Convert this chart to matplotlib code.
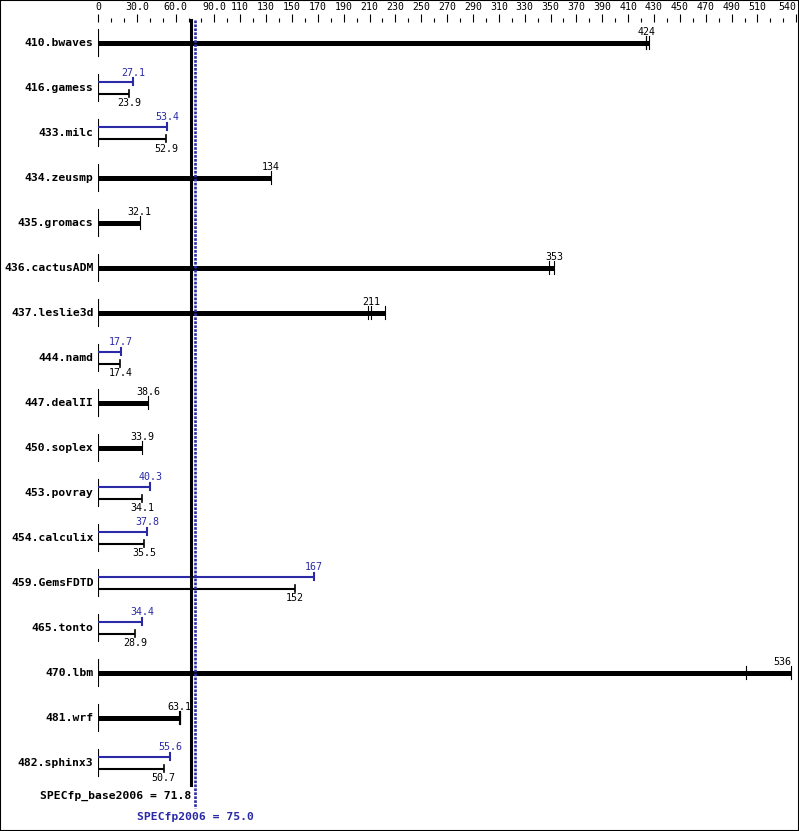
import numpy as np
import matplotlib.pyplot as plt
from matplotlib.patches import Rectangle

benchmarks = ["410.bwaves", "416.gamess", "433.milc", "434.zeusmp", "435.gromacs",
              "436.cactusADM", "437.leslie3d", "444.namd", "447.dealII", "450.soplex",
              "453.povray", "454.calculix", "459.GemsFDTD", "465.tonto", "470.lbm",
              "481.wrf", "482.sphinx3"]
base = [424, 23.9, 52.9, 134, 32.1, 353, 211, 17.4, 38.6, 33.9,
        34.1, 35.5, 152, 28.9, 536, 63.1, 50.7]
peak = [None, 27.1, 53.4, None, None, None, None, 17.7, None, None,
        40.3, 37.8, 167, 34.4, None, None, 55.6]
# individual runs, drawn as ticks on the rows where base == peak
runs = {
    "410.bwaves": [423.8, 424, 426.1],
    "434.zeusmp": [134],
    "435.gromacs": [32.1],
    "436.cactusADM": [349, 353],
    "437.leslie3d": [209.2, 211, 222.2],
    "447.dealII": [38.6],
    "450.soplex": [33.9],
    "470.lbm": [501, 536],
    "481.wrf": [62.8, 63.1, 63.4],
}
major_ticks = [0, 30, 60, 90] + list(range(110, 530, 20)) + [540]
major_labels = ["0", "30.0", "60.0", "90.0"] + [str(v) for v in range(110, 530, 20)] + ["540"]
base_mean = 71.8
peak_mean = 75.0

W, H = 799, 831
BLUE = "#2a2aa6"
MONO = "DejaVu Sans Mono"

fig = plt.figure(figsize=(W / 100, H / 100), dpi=100)
x0, px_per = 98, 1.293
top = 22
ax = fig.add_axes([x0 / W, 0, 540 * px_per / W, (H - top) / H])
ax.set_xlim(0, 540)
ax.set_ylim(H, top)
ax.patch.set_visible(False)
for s in ax.spines.values():
    s.set_visible(False)
ax.set_yticks([])
ax.xaxis.tick_top()
ax.set_xticks(major_ticks)
ax.set_xticklabels(major_labels, fontsize=7.1, family=MONO)
ax.get_xticklabels()[-1].set_horizontalalignment("right")
ax.set_xticks(np.arange(0, 541, 10), minor=True)
ax.tick_params(axis="x", which="major", length=5.8, width=0.8, pad=1.5)
ax.tick_params(axis="x", which="minor", length=2.9, width=0.8)

row0, step = 43, 45
for i, name in enumerate(benchmarks):
    y = row0 + step * i
    ax.plot([0, 0], [y - 13.5, y + 13.5], color="black", lw=0.8)
    ax.text(-4.5 / px_per, y, name, ha="right", va="center", fontsize=8.2,
            family=MONO, fontweight="bold")
    if peak[i] is None:
        r = runs[name]
        ax.plot([0, max(r)], [y, y], color="black", lw=3.6, solid_capstyle="butt")
        for v in r:
            ax.plot([v, v], [y - 6.5, y + 6.5], color="black", lw=0.8)
        ha = "center"
        tx = base[i]
        if base[i] > 520:
            ha, tx = "right", max(r)
        ax.text(tx, y - 11, f"{base[i]:g}", ha=ha, va="center", fontsize=7.2, family=MONO)
    else:
        yb, yk = y - 6, y + 6
        ax.plot([0, peak[i]], [yb, yb], color=BLUE, lw=1.5, solid_capstyle="butt")
        ax.plot([peak[i]] * 2, [yb - 3.5, yb + 3.5], color=BLUE, lw=1.5)
        ax.plot([0, base[i]], [yk, yk], color="black", lw=1.5, solid_capstyle="butt")
        ax.plot([base[i]] * 2, [yk - 3.5, yk + 3.5], color="black", lw=1.2)
        ax.text(peak[i], y - 15.5, f"{peak[i]:g}", ha="center", va="center",
                fontsize=7.2, family=MONO, color=BLUE)
        ax.text(base[i], y + 15.5, f"{base[i]:g}", ha="center", va="center",
                fontsize=7.2, family=MONO, color="black")

ax.plot([base_mean] * 2, [20, 785], color="black", lw=2.2, clip_on=False, zorder=5)
ax.plot([peak_mean] * 2, [20, 808], color=BLUE, lw=1.9, ls=(0, (1, 0.5)),
        solid_capstyle="butt", dash_capstyle="butt", clip_on=False, zorder=5)
ax.text(base_mean, 796, f"SPECfp_base2006 = {base_mean}", ha="right", va="center",
        fontsize=8.2, family=MONO, fontweight="bold")
ax.text(peak_mean, 817, f"SPECfp2006 = {peak_mean:.1f}", ha="center", va="center",
        fontsize=8.2, family=MONO, fontweight="bold", color=BLUE)

fig.add_artist(Rectangle((0, 0), 1, 1, transform=fig.transFigure, fill=False,
                         lw=1.5, ec="black"))
fig.savefig("out.png", dpi=100)
